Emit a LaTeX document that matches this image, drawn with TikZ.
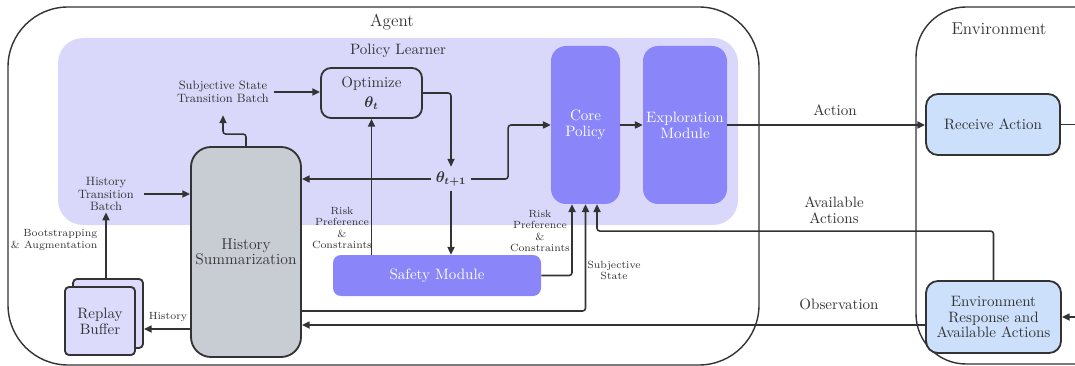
\documentclass[tikz,border=0pt]{standalone}
\usepackage{amsmath}
\usepackage{xcolor}
\usepackage{tikz}
\usetikzlibrary{arrows.meta,calc}
\definecolor{lavbg}{HTML}{D9D8FB}
\definecolor{violetmod}{HTML}{8A86FA}
\definecolor{greysum}{HTML}{C8CDD4}
\definecolor{bufferfill}{HTML}{DCDBFC}
\definecolor{envblue}{HTML}{CCE0FC}
\definecolor{inkc}{HTML}{333333}
\def\px{0.025cm}
\def\bigtxt{\fontsize{10.7}{11.2}\selectfont}
\def\midtxt{\fontsize{8.6}{9}\selectfont}
\def\smalltxt{\fontsize{7.4}{7.9}\selectfont}
\def\headtxt{\fontsize{12.2}{13}\selectfont}
\tikzstyle{outerbox}=[draw=inkc,line width=1pt,inner sep=0pt]
\tikzstyle{learnerbg}=[fill=lavbg,rounded corners=0.625cm,inner sep=0pt]
\tikzstyle{optbox}=[draw=inkc,line width=1.3pt,fill=lavbg,rounded corners=0.25cm,inner sep=0pt,align=center,font=\bigtxt]
\tikzstyle{sumbox}=[draw=inkc,line width=1.3pt,fill=greysum,rounded corners=0.5cm,inner sep=0pt,align=center,font=\fontsize{11.1}{10.8}\selectfont]
\tikzstyle{bufbox}=[draw=inkc,line width=1.3pt,fill=bufferfill,rounded corners=0.1cm,inner sep=0pt,align=center,font=\bigtxt]
\tikzstyle{module}=[fill=violetmod,text=white,inner sep=0pt,align=center,font=\bigtxt]
\tikzstyle{envbox}=[draw=inkc,line width=1.3pt,fill=envblue,rounded corners=0.3cm,inner sep=0pt,align=center,font=\bigtxt]
\tikzstyle{note}=[inner sep=1pt,align=center]
\tikzstyle{wire}=[draw=inkc,line width=1.1pt,rounded corners=2pt]
\tikzstyle{arr}=[wire,-{Triangle[length=5.5pt,width=5pt]}]

\begin{document}
\begin{tikzpicture}[x=\px,y=-\px,every node/.append style={text=inkc}]
    \useasboundingbox (0,0) rectangle (1075,366);
    \clip (0,0) rectangle (1075,366);
    \node[outerbox,rounded corners=1.5cm,minimum width=751*\px,minimum height=358*\px] (agent) at (383.5,186) {};
    \node[outerbox,rounded corners=1.25cm,minimum width=260*\px,minimum height=357*\px] (env) at (1046,185.5) {};
    \node[learnerbg,minimum width=680*\px,minimum height=187*\px] (learner) at (398,131.5) {};
    \node[font=\headtxt] (agentlbl) at (392,22) {Agent};
    \node[font=\bigtxt] (learnerlbl) at (398,51) {Policy Learner};
    \node[font=\headtxt] (envlbl) at (999,29) {Environment};

    \node[optbox,minimum width=101*\px,minimum height=50*\px] (opt) at (371.5,93) {Optimize\\[3pt]$\boldsymbol{\theta_t}$};
    \node[sumbox,minimum width=110*\px,minimum height=210*\px] (hs) at (246,252) {History\\Summarization};
    \node[note,font=\midtxt] (sstb) at (223,92) {Subjective State\\Transition Batch};
    \node[note,font=\midtxt] (htb) at (106,194) {History\\Transition\\Batch};
    \node[note,font=\smalltxt,align=right,anchor=east] (boot) at (99,240) {Bootstrapping\\\& Augmentation};
    \node[bufbox,minimum width=70*\px,minimum height=69*\px] (bufback) at (108,313.5) {};
    \node[bufbox,minimum width=70*\px,minimum height=68*\px] (buf) at (100,321) {Replay\\Buffer};
    \node[note,font=\smalltxt] (histlbl) at (168,317) {History};
    \node[font=\bigtxt] (theta) at (451,179) {$\boldsymbol{\theta_{t+1}}$};
    \node[module,rounded corners=0.2cm,minimum width=208*\px,minimum height=41*\px] (safe) at (437,275.5) {Safety Module};
    \node[module,rounded corners=0.375cm,minimum width=69*\px,minimum height=158*\px] (core) at (585.5,125) {Core\\Policy};
    \node[module,rounded corners=0.375cm,minimum width=84*\px,minimum height=158*\px] (explore) at (685,125) {Exploration\\Module};
    \node[envbox,minimum width=134*\px,minimum height=61*\px] (recv) at (993,124.5) {Receive Action};
    \node[envbox,minimum width=135*\px,minimum height=72*\px] (resp) at (993.5,317) {Environment\\Response and\\Available Actions};
    \node[note,font=\smalltxt] (risk1) at (342,228) {Risk\\Preference\\\&\\Constraints};
    \node[note,font=\smalltxt] (risk2) at (540,231) {Risk\\Preference\\\&\\Constraints};
    \node[note,font=\smalltxt] (substate) at (614,270) {Subjective\\State};
    \node[font=\bigtxt] (actlbl) at (835,110) {Action};
    \node[font=\bigtxt,align=center] (availlbl) at (834,210) {Available\\Actions};
    \node[font=\bigtxt] (obslbl) at (839,304) {Observation};

    \coordinate (histout) at ($(hs.west)+(0,77)$);
    \coordinate (substart) at ($(hs.east)+(0,59)$);
    \coordinate (obsstart) at ($(resp.west)+(0,8)$);
    \draw[arr] ($(sstb.east)+(3,0)$) -- (sstb.east -| opt.west);
    \draw[arr] (hs.north) -- ++(0,-12) -| ($(sstb.south)+(0,11)$);
    \draw[arr] ($(htb.east)+(8,0)$) -- (htb.east -| hs.west);
    \draw[arr] (bufback.north -| htb.south) -- (htb.south);
    \draw[arr] (histout) -- (histout -| bufback.east);
    \draw[arr] (opt.east) -| (theta.north);
    \draw[arr] (theta.west) -- (theta.west -| hs.east);
    \draw[arr] (theta.east) -- ++(37,0) |- (core.west);
    \draw[arr] (theta.south) -- (theta.south |- safe.north);
    \draw[arr] (opt.south |- safe.north) -- (opt.south);
    \draw[arr] (safe.east) -| ($(core.south)+(-13.5,0)$);
    \draw[arr] (substart) -| (core.south);
    \draw[arr] (resp.north) -- ++(0,-49) -| ($(core.south)+(11.5,0)$);
    \draw[arr] (core.east) -- (explore.west);
    \draw[arr] (explore.east) -- (explore.east -| recv.west);
    \draw[arr] (obsstart) -- (obsstart -| hs.east);
    \draw[wire] (recv.east) -- ++(30,0);
    \draw[arr] ($(resp.east)+(30,0)$) -- (resp.east);
\end{tikzpicture}
\end{document}
